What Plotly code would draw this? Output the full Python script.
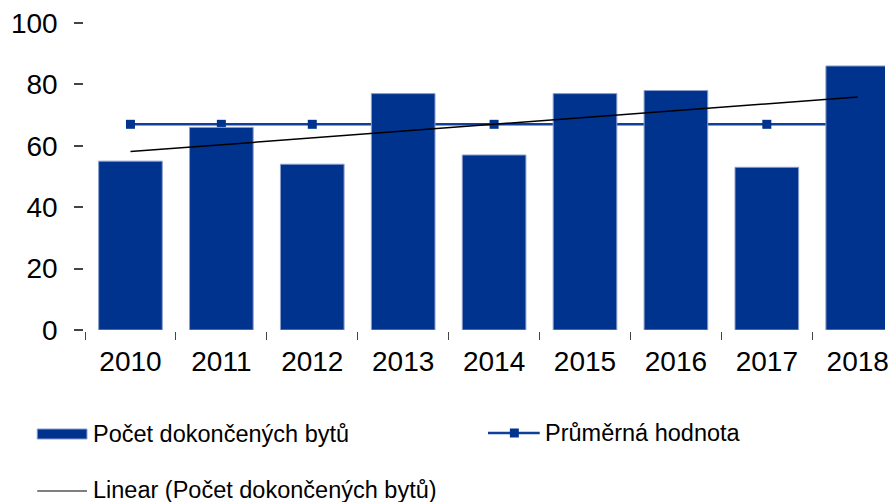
import numpy as np
import plotly.graph_objects as go

years = ["2010", "2011", "2012", "2013", "2014", "2015", "2016", "2017", "2018"]
completed = [55, 66, 54, 77, 57, 77, 78, 53, 86]
average_value = [67] * len(years)
name_bars = "Počet dokončených bytů"
name_avg = "Průměrná hodnota"
name_trend = "Linear (Počet dokončených bytů)"

idx = np.arange(len(years))
slope, intercept = np.polyfit(idx, completed, 1)
trend = (slope * idx + intercept).tolist()

BLUE = "#00338D"
LINE_BLUE = "#10409A"
FONT = "Liberation Sans, Arial, sans-serif"

W, H = 889, 502
ML, MT, MR, MB = 85, 23, 0, 172
PW, PH = W - ML - MR, H - MT - MB


def px(x):
    return (x - ML) / PW


def py(y):
    return (H - MB - y) / PH


fig = go.Figure()
fig.add_trace(go.Scatter(x=years, y=average_value, mode="lines+markers", name=name_avg,
                         line=dict(color=LINE_BLUE, width=2.5),
                         marker=dict(symbol="square", size=9, color=BLUE),
                         zorder=0, showlegend=False))
fig.add_trace(go.Bar(x=years, y=completed, name=name_bars,
                     marker=dict(color=BLUE, line=dict(color="#8A9DCC", width=1)),
                     zorder=1, showlegend=False))
fig.add_trace(go.Scatter(x=years, y=trend, mode="lines", name=name_trend,
                         line=dict(color="black", width=1.5),
                         zorder=2, showlegend=False))

LEG_FONT = dict(size=23.5, color="black", family=FONT)
shapes = [
    dict(type="rect", xref="paper", yref="paper", x0=px(37), x1=px(87), y0=py(439), y1=py(429),
         fillcolor=BLUE, line=dict(color="#8A9DCC", width=1)),
    dict(type="line", xref="paper", yref="paper", x0=px(490), x1=px(542), y0=py(433), y1=py(433),
         line=dict(color=LINE_BLUE, width=2.5)),
    dict(type="rect", xref="paper", yref="paper", x0=px(512), x1=px(521), y0=py(437.5), y1=py(428.5),
         fillcolor=BLUE, line=dict(width=0)),
    dict(type="line", xref="paper", yref="paper", x0=px(37), x1=px(87), y0=py(491), y1=py(491),
         line=dict(color="black", width=1.2)),
]
annotations = [
    dict(text=name_bars, x=px(91), y=py(434), xref="paper", yref="paper", xanchor="left",
         yanchor="middle", showarrow=False, font=LEG_FONT),
    dict(text=name_avg, x=px(545), y=py(433), xref="paper", yref="paper", xanchor="left",
         yanchor="middle", showarrow=False, font=LEG_FONT),
    dict(text=name_trend, x=px(91), y=py(490), xref="paper", yref="paper", xanchor="left",
         yanchor="middle", showarrow=False, font=LEG_FONT),
]

fig.update_layout(
    width=W, height=H,
    margin=dict(l=ML, r=MR, t=MT, b=MB, pad=0),
    paper_bgcolor="white", plot_bgcolor="white",
    bargap=0.3,
    font=dict(family=FONT, size=28, color="black"),
    shapes=shapes, annotations=annotations,
    showlegend=False,
)
fig.update_xaxes(type="category", range=[-0.5, 8.3], showgrid=False, zeroline=False,
                 showline=True, linecolor="#888888", linewidth=1.5,
                 ticks="outside", tickson="boundaries", ticklen=8, tickcolor="#444444",
                 tickwidth=1.2, tickfont=dict(size=28), ticklabelstandoff=6)
fig.update_yaxes(range=[0, 100], dtick=20, showgrid=False, zeroline=False,
                 showline=True, linecolor="black", linewidth=1.5,
                 ticks="outside", ticklen=9, tickcolor="#444444", tickwidth=1.5,
                 tickfont=dict(size=28), ticklabelstandoff=11)

fig.write_html("out.html",
               config={"displayModeBar": False},
               post_script="document.body.style.margin='0';document.body.style.padding='0';"
                           "document.documentElement.style.overflow='hidden';")
